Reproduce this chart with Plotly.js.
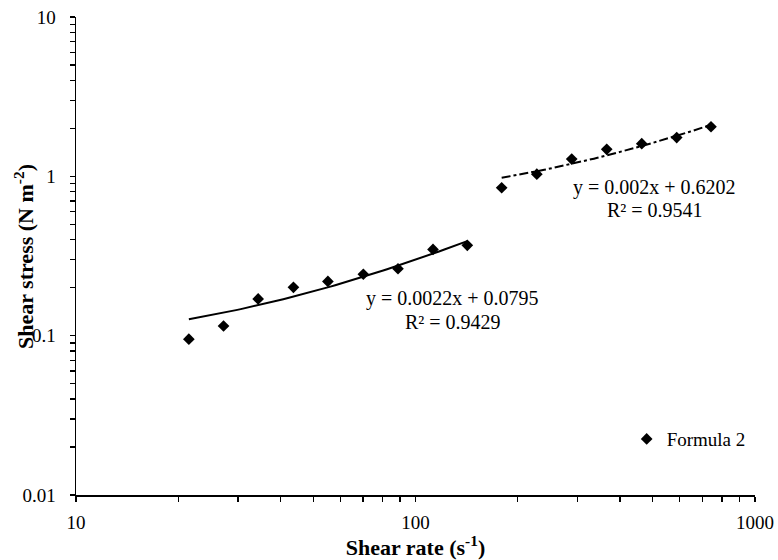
<!DOCTYPE html>
<html><head><meta charset="utf-8">
<script src="https://cdn.plot.ly/plotly-3.0.1.min.js"></script>
<style>html,body{margin:0;padding:0;background:#fff}</style>
</head><body><div id="chart" style="width:778px;height:560px"></div>
<script>
// Data
const shearRate1 = [21.5, 27.2, 34.4, 43.7, 55.2, 70.2, 88.8, 112.6, 142.1];
const shearStress1 = [0.095, 0.115, 0.170, 0.201, 0.219, 0.243, 0.263, 0.348, 0.369];
const shearRate2 = [179.4, 227.7, 288.5, 365.8, 463.9, 588.0, 742.0];
const shearStress2 = [0.848, 1.031, 1.284, 1.477, 1.602, 1.752, 2.048];
const fit1 = {slope: 0.0022, intercept: 0.0795, r2: 0.9429};
const fit2 = {slope: 0.002, intercept: 0.6202, r2: 0.9541};
const seriesName = 'Formula 2';
const xTitle = '<b>Shear rate (s<sup>-1</sup>)</b>';
const yTitle = '<b>Shear stress (N m<sup>-2</sup>)</b>';
const xTickVals = [10,20,30,40,50,60,70,80,90,100,200,300,400,500,600,700,800,900,1000];
const xTickText = ['10','','','','','','','','','100','','','','','','','','','1000'];
const yTickVals = [0.01,0.02,0.03,0.04,0.05,0.06,0.07,0.08,0.09,0.1,0.2,0.3,0.4,0.5,0.6,0.7,0.8,0.9,1,2,3,4,5,6,7,8,9,10];
const yTickText = ['0.01','','','','','','','','','0.1','','','','','','','','','1','','','','','','','','','10'];

function trend(xs, fit) {
  const n = 60, lo = xs[0], hi = xs[xs.length - 1];
  const tx = [], ty = [];
  for (let i = 0; i < n; i++) {
    const x = lo * Math.pow(hi / lo, i / (n - 1));
    tx.push(x); ty.push(fit.slope * x + fit.intercept);
  }
  return {x: tx, y: ty};
}
const t1 = trend(shearRate1, fit1);
const t2 = trend(shearRate2, fit2);
const fam = 'Liberation Serif, Times New Roman, serif';
const f = (s) => ({family: fam, color: '#000', size: s});

const traces = [
  {x: t1.x, y: t1.y, mode: 'lines', line: {color: '#000', width: 2}, showlegend: false, hoverinfo: 'skip'},
  {x: t2.x, y: t2.y, mode: 'lines', line: {color: '#000', width: 2, dash: 'dashdot'}, showlegend: false, hoverinfo: 'skip'},
  {x: shearRate1.concat(shearRate2), y: shearStress1.concat(shearStress2), mode: 'markers', name: seriesName,
   marker: {symbol: 'diamond', size: 9, color: '#000'}}
];

function eq(fit) { return 'y = ' + fit.slope + 'x + ' + fit.intercept; }
function note(x, y, text, size, angle) {
  return {xref: 'paper', yref: 'paper', x: x, y: y, text: text, showarrow: false,
          xanchor: 'center', yanchor: 'middle', textangle: angle || 0, font: f(size)};
}

const layout = {
  width: 778, height: 560,
  margin: {l: 76, r: 23, t: 17, b: 65},
  paper_bgcolor: '#fff', plot_bgcolor: '#fff',
  font: f(19),
  xaxis: {
    type: 'log', range: [1, 3], autorange: false,
    showline: true, linecolor: '#000', linewidth: 1.5, showgrid: false, zeroline: false,
    ticks: 'outside', ticklen: 5, tickwidth: 1.3, tickcolor: '#000',
    tickmode: 'array', tickvals: xTickVals, ticktext: xTickText,
    tickfont: f(19), ticklabelstandoff: 5,
    title: {text: xTitle, font: f(22), standoff: 0},
    automargin: false
  },
  yaxis: {
    type: 'log', range: [-2, 1], autorange: false,
    showline: true, linecolor: '#000', linewidth: 1.5, showgrid: false, zeroline: false,
    ticks: 'outside', ticklen: 5, tickwidth: 1.3, tickcolor: '#000',
    tickmode: 'array', tickvals: yTickVals, ticktext: yTickText,
    tickfont: f(19), ticklabelstandoff: 10,
    automargin: false
  },
  showlegend: true,
  legend: {x: 0.811, y: 0.117, xanchor: 'left', yanchor: 'middle', font: f(19),
           bgcolor: 'rgba(0,0,0,0)', itemwidth: 30},
  annotations: [
    note(-0.0766, 0.5, yTitle, 22, -90),
    note(0.555, 0.412, eq(fit1), 20),
    note(0.555, 0.362, 'R² = ' + fit1.r2, 20),
    note(0.852, 0.644, eq(fit2), 20),
    note(0.852, 0.596, 'R² = ' + fit2.r2, 20)
  ]
};
Plotly.newPlot('chart', traces, layout, {displayModeBar: false, staticPlot: true});
</script></body></html>
